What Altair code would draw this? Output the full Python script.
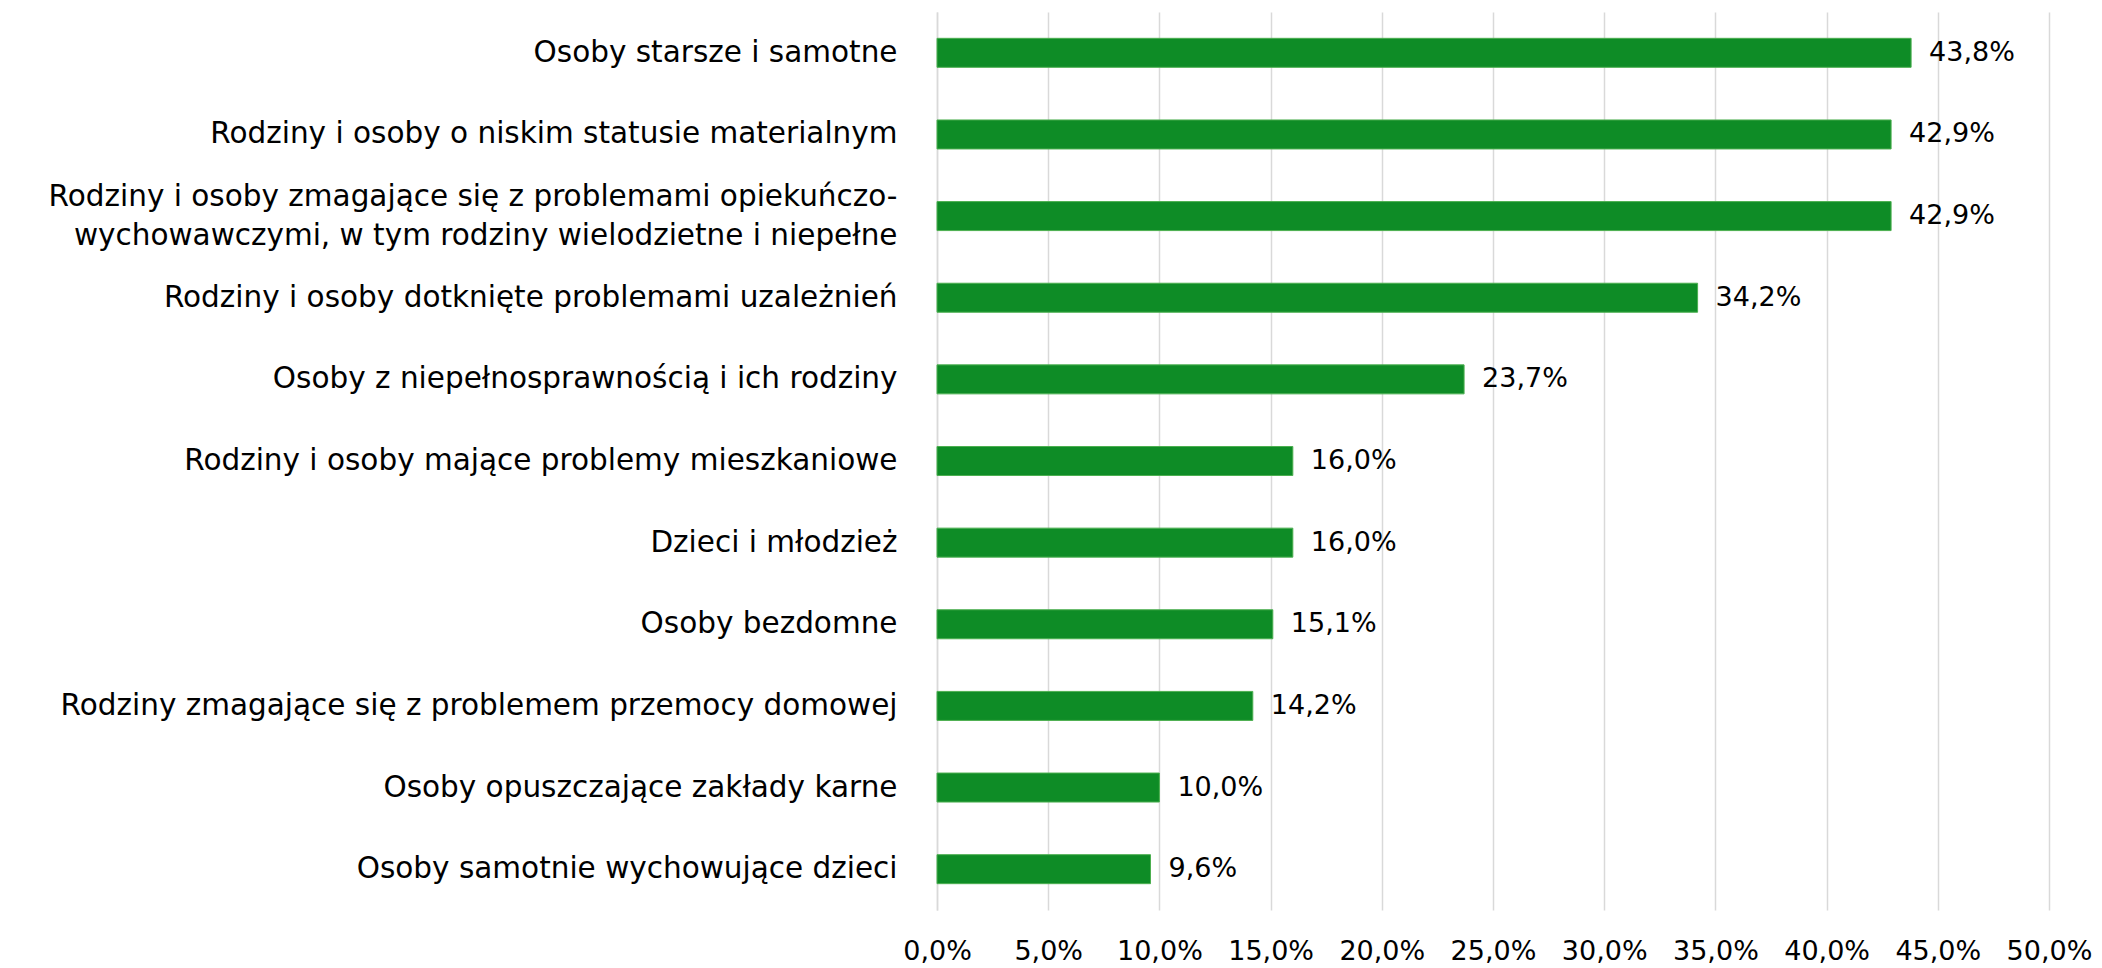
import altair as alt
import pandas as pd

categories = [
    "Osoby starsze i samotne",
    "Rodziny i osoby o niskim statusie materialnym\u00a0",
    "Rodziny i osoby zmagające się z problemami opiekuńczo-|wychowawczymi, w tym rodziny wielodzietne i niepełne",
    "Rodziny i osoby dotknięte problemami uzależnień",
    "Osoby z niepełnosprawnością i ich rodziny\u00a0",
    "Rodziny i osoby mające problemy mieszkaniowe",
    "Dzieci i młodzież",
    "Osoby bezdomne",
    "Rodziny zmagające się z problemem przemocy domowej",
    "Osoby opuszczające zakłady karne",
    "Osoby samotnie wychowujące dzieci",
]
values = [43.8, 42.9, 42.9, 34.2, 23.7, 16.0, 16.0, 15.1, 14.2, 10.0, 9.6]
tick_values = [0, 5, 10, 15, 20, 25, 30, 35, 40, 45, 50]

df = pd.DataFrame({
    "cat": categories,
    "val": values,
    "label": [f"{v:.1f}".replace(".", ",") + "%" for v in values],
})

FONT = "DejaVu Sans"
GREEN = "#0e8c26"

y_enc = alt.Y(
    "cat:N",
    sort=categories,
    title=None,
    scale=alt.Scale(paddingInner=0, paddingOuter=0),
    axis=alt.Axis(
        labelExpr="split(datum.label, '|')",
        labelFont=FONT,
        labelFontSize=29.5,
        labelColor="#000000",
        labelPadding=40,
        labelLimit=900,
        labelLineHeight=39,
        labelOffset={"condition": {"test": "indexof(datum.label, '|') >= 0", "value": -19}, "value": 0},
        ticks=False,
        domain=True,
        domainColor="#d9d9d9",
        domainWidth=1.5,
        grid=False,
    ),
)

x_enc = alt.X(
    "val:Q",
    title=None,
    scale=alt.Scale(domain=[0, 50], nice=False, zero=True),
    axis=alt.Axis(
        values=tick_values,
        labelExpr="replace(format(datum.value, '.1f'), '.', ',') + '%'",
        labelFont=FONT,
        labelFontSize=27,
        labelColor="#000000",
        labelPadding=28,
        labelOverlap=False,
        labelFlush=False,
        ticks=False,
        domain=False,
        grid=True,
        gridColor="#d9d9d9",
        gridWidth=1.5,
    ),
)

bars = alt.Chart(df).mark_bar(size=29, color=GREEN, stroke="#4caf50", strokeWidth=1).encode(
    x=x_enc, y=y_enc
)

texts = alt.Chart(df).mark_text(
    align="left", baseline="middle", dx=18, font=FONT, fontSize=27, color="#000000"
).encode(
    x=alt.X("val:Q"),
    y=alt.Y("cat:N", sort=categories),
    text="label:N",
)

chart = alt.layer(bars, texts).properties(
    width=1112,
    height=898,
    autosize=alt.AutoSizeParams(type="none"),
    padding={"left": 929, "top": 4, "right": 44, "bottom": 56},
).configure(background="#ffffff").configure_view(stroke=None)

chart.save("out.html", embed_options={"renderer": "svg", "actions": False})
